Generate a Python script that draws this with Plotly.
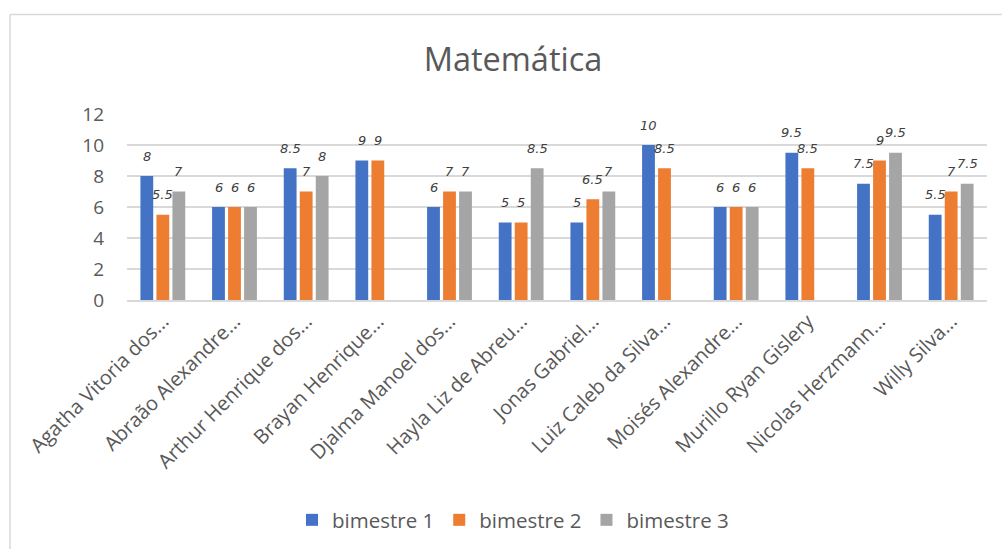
import plotly.graph_objects as go

# Alunos e notas por bimestre
alunos = [
    "Agatha Vitoria dos...", "Abraão Alexandre...", "Arthur Henrique dos...",
    "Brayan Henrique...", "Djalma Manoel dos...", "Hayla Liz de Abreu...",
    "Jonas Gabriel...", "Luiz Caleb da Silva...", "Moisés Alexandre...",
    "Murillo Ryan Gislery", "Nicolas Herzmann...", "Willy Silva...",
]
bimestre_1 = [8, 6, 8.5, 9, 6, 5, 5, 10, 6, 9.5, 7.5, 5.5]
bimestre_2 = [5.5, 6, 7, 9, 7, 5, 6.5, 8.5, 6, 8.5, 9, 7]
bimestre_3 = [7, 6, 8, None, 7, 8.5, 7, None, 6, None, 9.5, 7.5]

series = [
    ("bimestre 1", bimestre_1, "#4472C4"),
    ("bimestre 2", bimestre_2, "#ED7D31"),
    ("bimestre 3", bimestre_3, "#A5A5A5"),
]

FONT = "Open Sans"
GRAY = "#595959"

fig = go.Figure()
for nome, valores, cor in series:
    fig.add_trace(go.Bar(
        name=nome, x=alunos, y=valores,
        marker=dict(color=cor, line=dict(width=0)),
    ))

# Rótulos de dados acima de cada barra
annotations = []
for j, (nome, valores, cor) in enumerate(series):
    for aluno, v in zip(alunos, valores):
        if v is None:
            continue
        annotations.append(dict(
            x=aluno, y=v, xref="x", yref="y",
            text=f"{v:g}", showarrow=False,
            xshift=(j - 1) * 16, yshift=20,
            yanchor="middle", xanchor="center",
            font=dict(family="DejaVu Sans", size=13, color="#404040", style="italic"),
        ))

# Moldura do gráfico (bordas superior e esquerda)
px_l, px_r, py_t, py_b = 127, 987, 114, 301
def fx(px):
    return (px - px_l) / (px_r - px_l)
def fy(py):
    return (py_b - py) / (py_b - py_t)

shapes = [
    dict(type="line", xref="paper", yref="paper", x0=fx(10), x1=fx(1010),
         y0=fy(14), y1=fy(14), line=dict(color="#D9D9D9", width=1.5)),
    dict(type="line", xref="paper", yref="paper", x0=fx(10), x1=fx(10),
         y0=fy(14), y1=fy(560), line=dict(color="#D9D9D9", width=1.5)),
]

fig.update_layout(
    width=1002, height=549,
    margin=dict(l=px_l, r=1002 - px_r, t=py_t, b=549 - py_b),
    paper_bgcolor="white", plot_bgcolor="white",
    barmode="group", bargap=0.33, bargroupgap=0.2,
    title=dict(text="Matemática", x=513 / 1002, xref="container", xanchor="center",
               y=1 - 60 / 549, yanchor="middle", yref="container",
               font=dict(family=FONT, size=32.5, color=GRAY)),
    font=dict(family=FONT, color=GRAY),
    xaxis=dict(tickangle=-45, tickfont=dict(size=20, color=GRAY),
               showgrid=False, showline=True, linecolor="#D9D9D9", linewidth=1.5,
               ticks=""),
    yaxis=dict(range=[0, 12], dtick=2, tickfont=dict(size=19, color=GRAY),
               showgrid=True, gridcolor="#D9D9D9", gridwidth=1.5,
               zeroline=False, showline=False, ticklabelstandoff=22),
    legend=dict(orientation="h", x=fx(513), xanchor="center", y=fy(520), yanchor="middle",
                font=dict(size=20.5, color=GRAY), traceorder="normal",
                itemwidth=30),
    annotations=annotations,
    shapes=shapes,
    showlegend=True,
)

fig.write_html("out.html")
